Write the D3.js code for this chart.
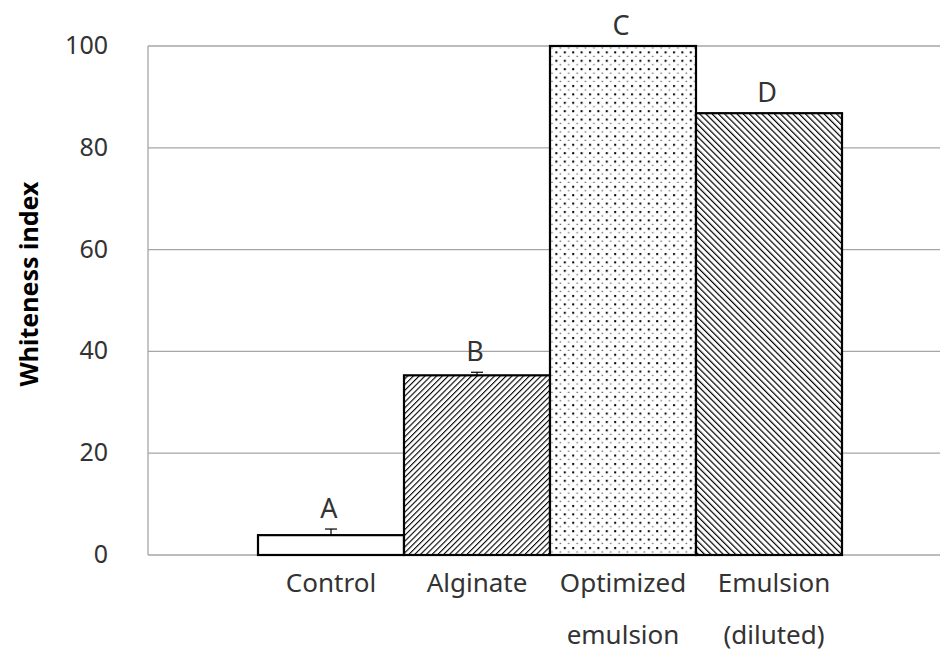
<!DOCTYPE html>
<html><head><meta charset="utf-8">
<script src="https://cdn.jsdelivr.net/npm/d3@7"></script>
<style>
html,body{margin:0;padding:0;background:#fff;}
text{font-family:"Noto Sans",sans-serif;}
</style></head>
<body>
<svg id="chart" width="940" height="654"></svg>
<script>
const categories = ["Control", "Alginate", "Optimized emulsion", "Emulsion (diluted)"];
const labelLines = [["Control"], ["Alginate"], ["Optimized", "emulsion"], ["Emulsion", "(diluted)"]];
const values = [3.9, 35.3, 100, 86.8];
const errors = [1.2, 0.6, 0, 0];
const letters = ["A", "B", "C", "D"];
const fills = ["white", "url(#hatchFwd)", "url(#dots)", "url(#hatchBack)"];
const yTicks = [0, 20, 40, 60, 80, 100];

const svg = d3.select("#chart");
const defs = svg.append("defs");

const p1 = defs.append("pattern").attr("id","hatchFwd").attr("patternUnits","userSpaceOnUse")
  .attr("width",4.1).attr("height",4.1).attr("patternTransform","rotate(45)");
p1.append("rect").attr("width",4.1).attr("height",4.1).attr("fill","#fff");
p1.append("line").attr("x1",0).attr("y1",0).attr("x2",0).attr("y2",4.1).attr("stroke","#000").attr("stroke-width",2.2);

const p2 = defs.append("pattern").attr("id","hatchBack").attr("patternUnits","userSpaceOnUse")
  .attr("width",4.4).attr("height",4.4).attr("patternTransform","rotate(-45)");
p2.append("rect").attr("width",4.4).attr("height",4.4).attr("fill","#fff");
p2.append("line").attr("x1",0).attr("y1",0).attr("x2",0).attr("y2",4.4).attr("stroke","#000").attr("stroke-width",2.4);

const p3 = defs.append("pattern").attr("id","dots").attr("patternUnits","userSpaceOnUse")
  .attr("width",8.4).attr("height",8.4);
p3.append("rect").attr("width",8.4).attr("height",8.4).attr("fill","#fff");
p3.append("rect").attr("x",1).attr("y",1).attr("width",2).attr("height",2).attr("fill","#000");
p3.append("rect").attr("x",5.2).attr("y",5.4).attr("width",1.5).attr("height",1).attr("fill","#444");

const y = d3.scaleLinear().domain([0, 100]).range([555, 46]);
const x = d3.scaleBand().domain(categories).range([258, 842]).padding(0);
const plotLeft = 148, plotRight = 940;

svg.append("g").selectAll("line").data(yTicks).join("line")
  .attr("x1", plotLeft).attr("x2", plotRight)
  .attr("y1", d => y(d)).attr("y2", d => y(d))
  .attr("stroke", "#a6a6a6").attr("stroke-width", 1.3);
svg.append("line").attr("x1", plotLeft).attr("x2", plotLeft)
  .attr("y1", y(100)).attr("y2", y(0)).attr("stroke", "#a6a6a6").attr("stroke-width", 1.3);

const yAxis = d3.axisLeft(y).tickValues(yTicks).tickSize(0).tickPadding(40);
const ya = svg.append("g").attr("transform", `translate(${plotLeft},0)`).call(yAxis);
ya.select(".domain").remove();
ya.selectAll("text").attr("font-size", 25).attr("fill", "#333").attr("font-family", "Noto Sans").attr("dy", "0.3em");

svg.append("g").selectAll("rect").data(categories).join("rect")
  .attr("x", d => x(d)).attr("width", x.bandwidth())
  .attr("y", (d,i) => y(values[i])).attr("height", (d,i) => y(0) - y(values[i]))
  .attr("fill", (d,i) => fills[i]).attr("stroke", "#000").attr("stroke-width", 2.2);

const eb = svg.append("g");
categories.forEach((c,i) => {
  if (errors[i] <= 0) return;
  const cx = x(c) + x.bandwidth()/2;
  eb.append("line").attr("x1", cx).attr("x2", cx).attr("y1", y(values[i])).attr("y2", y(values[i]+errors[i])).attr("stroke","#000").attr("stroke-width",1.2);
  eb.append("line").attr("x1", cx-6).attr("x2", cx+6).attr("y1", y(values[i]+errors[i])).attr("y2", y(values[i]+errors[i])).attr("stroke","#000").attr("stroke-width",1.2);
});

svg.append("g").selectAll("text").data(categories).join("text")
  .attr("x", d => x(d) + x.bandwidth()/2 - 2)
  .attr("y", (d,i) => y(values[i] + errors[i]) - 11)
  .attr("text-anchor", "middle").attr("font-size", 27).attr("fill", "#333")
  .text((d,i) => letters[i]);

const xl = svg.append("g");
categories.forEach((c,i) => {
  const cx = x(c) + x.bandwidth()/2 + (i === 3 ? 5 : 0);
  const t = xl.append("text").attr("x", cx).attr("y", 592)
    .attr("text-anchor", "middle").attr("font-size", 26).attr("fill", "#333");
  labelLines[i].forEach((l, j) => {
    t.append("tspan").attr("x", cx).attr("dy", j === 0 ? 0 : 52).text(l);
  });
});

svg.append("text").attr("transform", "translate(38,284) rotate(-90)")
  .attr("text-anchor", "middle").attr("font-size", 25).attr("font-weight", "bold").attr("fill", "#000")
  .text("Whiteness index");
</script>
</body></html>
